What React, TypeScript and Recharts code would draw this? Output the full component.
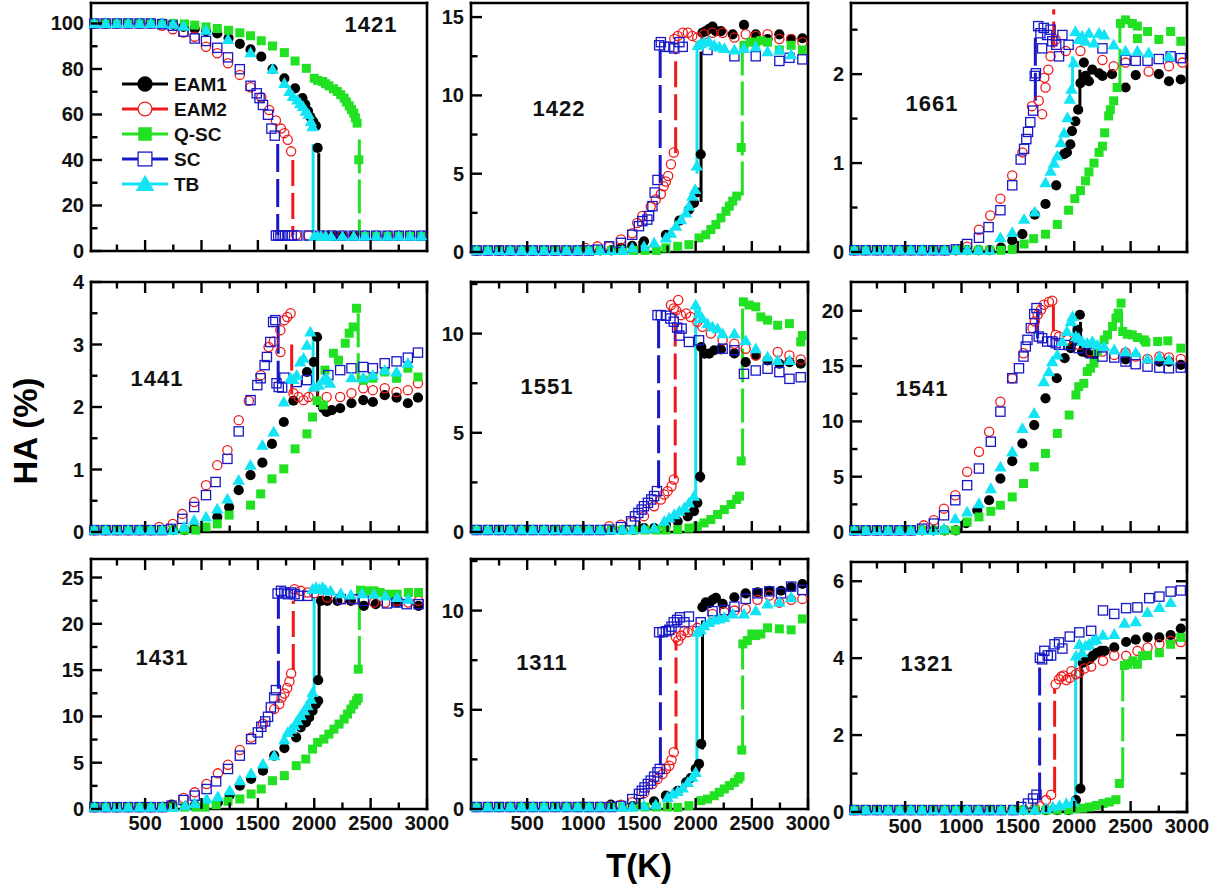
import React from 'react'
import { ComposedChart, Scatter, XAxis, YAxis, ReferenceLine, Legend } from 'recharts'

type Pt = [number, number]
// [series, T, from, to] : vertical jump drawn as a line
type Jump = [string, number, number, number]

const seriesNames = ['EAM1', 'EAM2', 'Q-SC', 'SC', 'TB']

const xMajor = [500, 1000, 1500, 2000, 2500, 3000]
const xMinor = [250, 750, 1250, 1750, 2250, 2750]

// ---------- 1421 ----------
const d1421_EAM1: Pt[] = [[50,100],[150,100],[250,100],[350,100],[450,100],[550,100],[650,100],[750,99.5],[840,98.5],[940,97.6],[1040,96.6],[1140,95.6],[1240,93.6],[1340,91],[1435,88.6],[1530,85.4],[1630,80],[1735,75.9],[1830,71.5],[1895,67.2],[1920,64.5],[1945,61.5],[1965,59],[1990,57],[2015,55],[2030,45.3],[2080,6.8],[2130,6.8],[2180,6.8],[2250,6.7],[2350,6.7],[2450,6.6],[2550,6.6],[2650,6.6],[2750,6.6],[2850,6.6],[2950,6.6]]
const d1421_EAM2: Pt[] = [[50,100],[150,100],[250,100],[350,100],[450,100],[550,100],[650,99],[745,97.5],[840,96],[940,94.2],[1040,89.8],[1140,86.9],[1235,82.5],[1340,77.4],[1435,72],[1530,67.6],[1600,62],[1660,57.4],[1705,53.8],[1735,51.8],[1765,48.9],[1795,43.8],[1840,7],[1950,6.8],[2050,6.8],[2150,6.8],[2250,6.8],[2350,6.8],[2450,6.8],[2550,6.8],[2650,6.8],[2750,6.8],[2850,6.8],[2950,6.8]]
const d1421_QSC: Pt[] = [[50,100],[150,100],[250,100],[350,100],[450,100],[550,100],[650,100],[750,100],[850,99.8],[940,99.3],[1040,98.5],[1140,97.8],[1240,97],[1340,95.9],[1435,94.6],[1530,92.4],[1630,90.1],[1735,87.2],[1830,83.5],[1930,80.3],[2000,75.9],[2030,75],[2075,74.5],[2100,73.5],[2130,72.6],[2170,71.3],[2205,70.1],[2235,68.7],[2265,67.2],[2285,65.5],[2310,63.8],[2330,62.2],[2350,60.6],[2365,58.5],[2380,56.2],[2395,40.1],[2450,6.6],[2550,6.6],[2650,6.6],[2750,6.6],[2850,6.6],[2950,6.6]]
const d1421_SC: Pt[] = [[50,100],[150,100],[250,100],[350,100],[450,100],[550,100],[650,99.7],[745,99],[840,96.4],[940,93.4],[1040,92.3],[1140,89.3],[1235,85.1],[1340,79.9],[1435,72.6],[1490,69.3],[1515,67.2],[1545,64.2],[1590,59.9],[1620,53.8],[1650,50.7],[1660,6.8],[1680,6.8],[1700,6.8],[1720,6.8],[1740,6.8],[1770,6.8],[1800,6.8],[1850,6.8],[1950,6.8],[2050,6.7],[2150,6.7],[2250,6.7],[2350,6.7],[2450,6.7],[2550,6.7],[2650,6.7],[2750,6.7],[2850,6.7],[2950,6.7]]
const d1421_TB: Pt[] = [[50,100],[150,100],[250,100],[350,100],[450,100],[550,100],[650,100],[750,99.7],[840,98.8],[1040,97.1],[1235,93],[1435,87.2],[1630,79.9],[1735,73.7],[1780,70.1],[1810,68],[1850,66.4],[1875,64.8],[1900,63.5],[1925,61.5],[1950,60],[1970,57],[1985,54.7],[2000,6.5],[2030,6.5],[2060,6.5],[2100,6.5],[2150,6.5],[2250,6.5],[2350,6.5],[2450,6.5],[2550,6.5],[2650,6.5],[2750,6.5],[2850,6.5],[2950,6.5]]
const jumps1421: Jump[] = [['EAM1',2040,43,7],['EAM2',1810,40,7],['Q-SC',2400,49,7],['SC',1676,47,7],['TB',1990,47,7]]
const yMajor1421 = [0, 20, 40, 60, 80, 100]
const yMinor1421 = [10, 30, 50, 70, 90]

// ---------- 1422 ----------
const d1422_EAM1: Pt[] = [[50,.1],[150,.1],[250,.1],[350,.1],[450,.1],[550,.1],[650,.1],[750,.1],[850,.1],[950,.1],[1050,.1],[1150,.1],[1250,.1],[1335,.26],[1435,.4],[1540,.68],[1735,1.1],[1855,2],[1940,2.7],[1985,3.14],[2015,3.8],[2045,6.24],[2060,14],[2090,14.1],[2120,14.25],[2150,14.4],[2180,14.1],[2225,14.1],[2330,13.9],[2430,14.5],[2535,13.9],[2640,13.6],[2745,13.9],[2850,13.6],[2950,13.65]]
const d1422_EAM2: Pt[] = [[50,.1],[150,.1],[250,.1],[350,.1],[450,.1],[550,.1],[650,.1],[750,.1],[850,.1],[950,.1],[1020,.26],[1125,.36],[1230,.36],[1335,.8],[1435,1.2],[1480,1.85],[1525,2.3],[1600,2.9],[1645,3.35],[1690,3.7],[1715,4.2],[1735,4.5],[1755,4.85],[1780,5.6],[1805,6.35],[1810,13.6],[1840,13.8],[1885,14],[1930,14],[1970,13.8],[2015,13.7],[2075,13.9],[2150,14],[2240,14],[2345,13.7],[2445,13.9],[2535,13.8],[2640,13.9],[2745,13.6],[2850,13.6],[2950,13.4]]
const d1422_QSC: Pt[] = [[50,.1],[150,.1],[250,.1],[350,.1],[450,.1],[550,.1],[650,.1],[750,.1],[850,.1],[950,.1],[1050,.1],[1150,.1],[1250,.1],[1350,.1],[1450,.1],[1550,.1],[1650,.1],[1735,.26],[1840,.36],[1940,.47],[2030,.9],[2090,1.1],[2135,1.43],[2180,1.75],[2225,2.18],[2270,2.6],[2300,2.93],[2330,3.25],[2365,3.57],[2405,6.67],[2430,13.2],[2490,13.4],[2535,13.4],[2580,13.5],[2640,13.4],[2745,12.9],[2850,13.2],[2950,12.9]]
const d1422_SC: Pt[] = [[50,.1],[150,.1],[250,.1],[350,.1],[450,.1],[550,.1],[650,.1],[750,.1],[850,.1],[950,.1],[1050,.1],[1130,.15],[1230,.36],[1335,.58],[1435,1.1],[1495,1.65],[1525,1.97],[1570,2.07],[1585,2.3],[1615,2.93],[1635,3.8],[1660,4.6],[1675,13.2],[1690,13.4],[1720,13.1],[1765,13.1],[1810,13],[1855,13.4],[1885,13.1],[2105,12.9],[2345,12.5],[2535,12.5],[2745,12.2],[2835,12.4],[2950,12.3]]
const d1422_TB: Pt[] = [[50,.1],[150,.1],[250,.1],[350,.1],[450,.1],[550,.1],[650,.1],[750,.1],[850,.1],[950,.1],[1050,.1],[1150,.1],[1250,.1],[1350,.1],[1435,.26],[1540,.36],[1630,.58],[1735,.9],[1780,1.2],[1825,1.65],[1870,2.07],[1915,2.5],[1940,2.93],[1970,3.57],[1995,4],[2010,5.5],[2020,13.2],[2045,13.3],[2075,13.4],[2120,13.45],[2165,13.2],[2210,13.1],[2255,13],[2345,12.9],[2430,13],[2535,13.1],[2640,12.8],[2745,12.9],[2850,12.6]]
const jumps1422: Jump[] = [['EAM1',2048,3.2,12.8],['EAM2',1822,6.3,12.8],['Q-SC',2415,3.6,12.9],['SC',1684,4.4,13],['TB',2012,5,13]]
const yMajor1422 = [0, 5, 10, 15]
const yMinor1422 = [2.5, 7.5, 12.5]

// ---------- 1661 ----------
const d1661_EAM1: Pt[] = [[50,.02],[150,.02],[250,.02],[350,.02],[450,.02],[550,.02],[650,.02],[750,.02],[850,.02],[950,.02],[1050,.02],[1150,.02],[1250,.02],[1350,.05],[1450,.13],[1540,.2],[1650,.42],[1745,.54],[1840,.75],[1910,1.1],[1935,1.12],[1965,1.21],[1980,1.36],[2010,1.47],[2035,1.6],[2055,1.9],[2085,2.13],[2100,1.98],[2130,1.92],[2160,2.05],[2220,2.01],[2250,1.98],[2335,2],[2455,1.85],[2545,1.99],[2750,2],[2840,1.92],[2945,1.94]]
const d1661_EAM2: Pt[] = [[50,.02],[150,.02],[250,.02],[350,.02],[450,.02],[550,.02],[650,.02],[750,.02],[850,.02],[950,.02],[1050,.06],[1155,.25],[1255,.41],[1345,.6],[1450,.86],[1540,1.12],[1625,1.64],[1685,1.7],[1715,1.55],[1735,1.96],[1745,1.85],[1770,2.05],[1790,2.2],[1835,2.39],[1925,2.26],[2055,2.26],[2250,2.16],[2350,2.09],[2455,2.13],[2660,2.03],[2840,2.09],[2960,2.13]]
const d1661_QSC: Pt[] = [[50,.02],[150,.02],[250,.02],[350,.02],[450,.02],[550,.02],[650,.02],[750,.02],[850,.02],[950,.02],[1050,.02],[1150,.02],[1250,.02],[1350,.02],[1450,.03],[1555,.09],[1640,.15],[1745,.2],[1850,.31],[1950,.47],[2005,.6],[2055,.69],[2100,.8],[2130,.9],[2175,1],[2220,1.12],[2250,1.19],[2270,1.34],[2305,1.53],[2320,1.6],[2350,1.7],[2380,1.85],[2410,2.57],[2455,2.61],[2515,2.57],[2560,2.54],[2650,2.48],[2855,2.48],[2560,2.4],[2750,2.39],[2945,2.37]]
const d1661_SC: Pt[] = [[50,.02],[150,.02],[250,.02],[350,.02],[450,.02],[550,.02],[650,.02],[750,.02],[850,.02],[950,.03],[1050,.09],[1155,.16],[1240,.28],[1345,.47],[1450,.75],[1525,1.04],[1555,1.16],[1575,1.27],[1590,1.35],[1610,1.46],[1635,1.59],[1650,1.98],[1660,2.01],[1680,2.54],[1700,2.46],[1715,2.29],[1730,2.52],[1760,2.44],[1790,2.5],[1805,2.37],[1840,2.33],[1865,2.2],[1895,2.44],[1950,2.33],[2250,2.29],[2455,2.16],[2545,2.15],[2650,2.15],[2750,2.17],[2855,2.2],[2945,2.18]]
const d1661_TB: Pt[] = [[50,.02],[150,.02],[250,.02],[350,.02],[450,.02],[550,.02],[650,.02],[750,.02],[850,.02],[950,.02],[1050,.02],[1150,.02],[1250,.02],[1345,.16],[1450,.22],[1555,.37],[1650,.45],[1745,.78],[1790,.91],[1820,1],[1850,1.08],[1880,1.23],[1910,1.34],[1940,1.51],[1960,1.72],[1975,1.83],[1995,2.13],[2010,2.48],[2040,2.39],[2070,2.43],[2100,2.37],[2130,2.46],[2175,2.35],[2220,2.46],[2265,2.44],[2350,2.33],[2455,2.26],[2560,2.26],[2660,2.24],[2840,2.2]]
const jumps1661: Jump[] = [['EAM1',2050,1.65,2.05],['EAM2',1818,2.3,2.73],['Q-SC',2405,1.9,2.55],['SC',1655,1.7,2.5],['TB',1985,1.8,2.2]]
const yMajor1661 = [0, 1, 2]
const yMinor1661 = [0.5, 1.5, 2.5]

// ---------- 1441 ----------
const d1441_EAM1: Pt[] = [[50,.03],[150,.03],[250,.03],[350,.03],[450,.03],[550,.03],[650,.03],[750,.03],[850,.03],[935,.05],[1140,.24],[1245,.4],[1330,.67],[1435,.91],[1540,1.11],[1625,1.41],[1730,1.76],[1815,2.1],[1935,2.56],[1995,2.72],[2025,3.12],[2080,1.98],[2110,1.92],[2155,1.95],[2230,1.98],[2330,2.06],[2435,2.11],[2520,2.08],[2625,2.19],[2730,2.15],[2830,2.06],[2920,2.15]]
const d1441_EAM2: Pt[] = [[50,.03],[150,.03],[250,.03],[350,.03],[450,.03],[550,.03],[625,.08],[745,.13],[830,.29],[935,.48],[1040,.75],[1140,1.07],[1230,1.31],[1330,1.79],[1420,2.1],[1525,2.51],[1595,2.96],[1640,3.05],[1700,3.23],[1735,3.39],[1760,3.44],[1790,3.5],[1700,2.88],[1815,2.22],[1860,2.16],[1905,2.11],[1950,2.16],[1995,2.19],[2110,2.16],[2230,2.16],[2330,2.22],[2435,2.3],[2520,2.27],[2625,2.3],[2730,2.24],[2830,2.27],[2920,2.38]]
const d1441_QSC: Pt[] = [[50,.03],[150,.03],[250,.03],[350,.03],[450,.03],[550,.03],[650,.03],[750,.03],[850,.03],[950,.03],[1040,.08],[1140,.13],[1245,.27],[1435,.43],[1525,.61],[1625,.85],[1730,1.01],[1830,1.33],[1935,1.57],[1985,1.84],[2025,2.1],[2080,2.03],[2095,2.59],[2170,2.86],[2215,2.75],[2275,3.02],[2310,3.18],[2345,3.28],[2375,3.58],[2435,2.43],[2520,2.46],[2625,2.56],[2730,2.46],[2830,2.62],[2920,2.48]]
const d1441_SC: Pt[] = [[50,.03],[150,.03],[250,.03],[350,.03],[450,.03],[550,.03],[650,.03],[730,.05],[830,.21],[935,.4],[1040,.59],[1125,.8],[1230,1.17],[1330,1.61],[1435,2.11],[1495,2.35],[1525,2.46],[1560,2.67],[1580,2.8],[1610,3.04],[1635,3.36],[1655,3.39],[1665,2.38],[1685,2.32],[1715,2.31],[1735,2.47],[1845,2.4],[1935,2.43],[2125,2.51],[2230,2.59],[2330,2.62],[2435,2.64],[2520,2.62],[2625,2.7],[2730,2.73],[2830,2.79],[2920,2.87]]
const d1441_TB: Pt[] = [[50,.03],[150,.03],[250,.03],[350,.03],[450,.03],[550,.03],[650,.03],[750,.03],[845,.08],[935,.19],[1040,.24],[1140,.37],[1230,.53],[1330,.83],[1435,1.07],[1540,1.39],[1640,1.6],[1730,2.08],[1790,2.46],[1815,2.44],[1845,2.51],[1875,2.72],[1905,2.78],[1935,2.99],[1965,3.2],[1995,2.32],[2040,2.35],[2080,2.43],[2110,2.46],[2140,2.38],[2330,2.47],[2435,2.47],[2520,2.51],[2625,2.59],[2730,2.56],[2830,2.7]]
const jumps1441: Jump[] = [['EAM1',2030,3.1,2],['EAM2',1800,3,2.2],['Q-SC',2390,3.5,2.4],['SC',1680,3.3,2.4],['TB',1990,3.2,2.35]]
const yMajor1441 = [0, 1, 2, 3, 4]
const yMinor1441 = [0.5, 1.5, 2.5, 3.5]

// ---------- 1551 ----------
const d1551_EAM1: Pt[] = [[50,.1],[150,.1],[250,.1],[350,.1],[450,.1],[550,.1],[650,.1],[750,.1],[850,.1],[950,.1],[1050,.1],[1150,.1],[1250,.1],[1350,.1],[1450,.1],[1540,.2],[1630,.2],[1735,.37],[1840,.54],[1930,.79],[1985,1.05],[2015,1.47],[2040,2.79],[2050,9.32],[2080,8.99],[2120,8.99],[2165,9.16],[2225,9.2],[2345,9],[2445,8.56],[2535,8.9],[2640,8.65],[2745,8.48],[2835,8.56],[2935,8.48]]
const d1551_EAM2: Pt[] = [[50,.1],[150,.1],[250,.1],[350,.1],[450,.1],[550,.1],[650,.1],[750,.1],[850,.1],[950,.1],[1050,.1],[1150,.1],[1230,.29],[1335,.37],[1425,.49],[1540,.8],[1630,1.3],[1690,1.64],[1720,1.89],[1750,2.06],[1785,2.31],[1805,2.65],[1780,11.44],[1805,11.27],[1825,11.18],[1845,11.69],[1870,10.93],[1915,11.01],[1955,10.84],[2015,10.59],[2060,10.34],[2135,10],[2240,9.66],[2345,9.49],[2445,9.24],[2535,8.9],[2730,9.07],[2835,8.9],[2935,8.7]]
const d1551_QSC: Pt[] = [[50,.1],[150,.1],[250,.1],[350,.1],[450,.1],[550,.1],[650,.1],[750,.1],[850,.1],[950,.1],[1050,.1],[1150,.1],[1250,.1],[1350,.1],[1450,.1],[1550,.1],[1650,.1],[1735,.1],[1840,.12],[1940,.2],[2015,.29],[2075,.46],[2135,.63],[2195,.88],[2255,1.13],[2315,1.39],[2365,1.64],[2390,1.81],[2405,3.58],[2425,11.6],[2475,11.44],[2535,11.35],[2580,10.84],[2640,10.68],[2730,10.42],[2835,10.5],[2935,9.58],[2950,9.9]]
const d1551_SC: Pt[] = [[50,.1],[150,.1],[250,.1],[350,.1],[450,.1],[550,.1],[650,.1],[750,.1],[850,.1],[950,.1],[1050,.1],[1150,.1],[1230,.12],[1335,.25],[1425,.54],[1460,.79],[1490,.96],[1520,1.13],[1540,1.3],[1575,1.47],[1605,1.64],[1630,1.81],[1655,2.06],[1660,10.93],[1690,10.93],[1735,10.9],[1775,10.76],[1805,10.6],[1835,10.3],[1855,9.9],[1875,10.25],[1940,9.58],[2030,9.66],[2240,9.24],[2345,9.16],[2430,7.97],[2535,8.14],[2640,8.23],[2745,8.06],[2835,7.72],[2935,7.8]]
const d1551_TB: Pt[] = [[50,.1],[150,.1],[250,.1],[350,.1],[450,.1],[550,.1],[650,.1],[750,.1],[850,.1],[950,.1],[1050,.1],[1150,.1],[1250,.1],[1350,.1],[1435,.12],[1540,.15],[1630,.2],[1720,.54],[1765,.71],[1810,.88],[1855,1.05],[1900,1.22],[1940,1.47],[1985,1.81],[2000,11.44],[2030,11.01],[2060,10.76],[2105,10.5],[2150,10.34],[2195,10.25],[2240,10],[2345,10],[2445,9.66],[2535,9.24],[2640,8.82],[2730,8.65],[2835,8.65]]
const jumps1551: Jump[] = [['EAM1',2045,2.5,9.3],['EAM2',1818,2.7,10.5],['Q-SC',2418,3.5,11.3],['SC',1670,2.2,10.7],['TB',2000,1.8,11.3]]
const yMajor1551 = [0, 5, 10]
const yMinor1551 = [2.5, 7.5, 12.5]

// ---------- 1541 ----------
const d1541_EAM1: Pt[] = [[50,.15],[150,.15],[250,.15],[350,.15],[450,.15],[550,.15],[650,.15],[750,.15],[850,.15],[950,.15],[1040,.8],[1140,1.96],[1245,2.87],[1345,4.83],[1450,6.4],[1540,8],[1645,9.67],[1745,12.08],[1845,13.9],[1915,15.71],[1970,16.62],[2000,17.22],[2030,18.28],[2050,19.64],[2070,16.31],[2115,16.16],[2175,16],[2455,15.6],[2755,15.41],[2840,15.41],[2945,15.1]]
const d1541_EAM2: Pt[] = [[50,.15],[150,.15],[250,.15],[350,.15],[450,.15],[550,.15],[665,.6],[755,1.06],[845,2.11],[945,3.32],[1050,5.44],[1155,7.25],[1245,9.06],[1345,11.78],[1450,13.9],[1550,16.16],[1630,18.43],[1650,19.03],[1675,19.64],[1705,20.09],[1730,20.54],[1775,20.79],[1805,20.9],[1835,17.82],[1865,17.67],[1940,17.37],[2040,16.92],[2145,16.31],[2250,16.31],[2355,16.01],[2455,16.22],[2545,15.86],[2650,15.65],[2755,15.86],[2840,15.77],[2945,15.65]]
const d1541_QSC: Pt[] = [[50,.15],[150,.15],[250,.15],[350,.15],[450,.15],[550,.15],[650,.15],[750,.15],[850,.15],[945,.15],[1050,.91],[1155,1.36],[1260,1.87],[1345,2.42],[1450,3.17],[1550,4.38],[1645,5.89],[1745,7.1],[1850,8.91],[1955,10.57],[2015,12.39],[2040,13.14],[2085,13.44],[2115,14.5],[2145,14.8],[2175,15.26],[2205,16.31],[2265,17.37],[2295,17.82],[2340,18.58],[2370,19.34],[2390,19.79],[2415,20.69],[2430,18.13],[2470,17.88],[2515,17.82],[2560,17.58],[2620,17.37],[2635,17.16],[2740,17.22],[2830,17.28],[2945,16.62]]
const d1541_SC: Pt[] = [[50,.15],[150,.15],[250,.15],[350,.15],[450,.15],[550,.15],[650,.3],[755,.76],[845,1.51],[945,2.87],[1050,4.23],[1155,5.74],[1260,8.16],[1345,10.88],[1450,13.9],[1510,14.8],[1550,15.86],[1570,16.77],[1585,17.37],[1615,18.43],[1645,19.7],[1665,20.24],[1685,17.67],[1715,17.52],[1760,17.22],[1805,17.22],[1835,17.07],[1865,16.92],[1955,16.9],[2040,16.62],[2145,16.16],[2250,15.86],[2355,15.77],[2455,15.41],[2545,15.17],[2650,14.95],[2755,14.86],[2840,14.8],[2945,14.86]]
const d1541_TB: Pt[] = [[50,.15],[150,.15],[250,.15],[350,.15],[450,.15],[550,.15],[650,.15],[750,.15],[845,.3],[945,1.21],[1050,1.81],[1155,2.57],[1260,3.93],[1345,5.89],[1450,7.25],[1540,9.37],[1645,10.73],[1730,13.6],[1775,14.5],[1805,15.41],[1850,16.01],[1895,17.22],[1935,18.13],[1970,19.03],[1985,19.49],[2015,17.67],[2040,17.52],[2070,17.22],[2115,17.07],[2160,17.22],[2205,16.92],[2265,16.77],[2355,16.47],[2455,16.31],[2545,16.22],[2650,15.65],[2755,15.86],[2840,15.56]]
const jumps1541: Jump[] = [['EAM1',2055,19,16.5],['EAM2',1815,20.5,17.6],['Q-SC',2420,20,18],['SC',1675,20,17.5],['TB',1995,19.3,17.5]]
const yMajor1541 = [0, 5, 10, 15, 20]
const yMinor1541 = [2.5, 7.5, 12.5, 17.5]

// ---------- 1431 ----------
const d1431_EAM1: Pt[] = [[50,.2],[150,.2],[250,.2],[350,.2],[450,.2],[550,.2],[650,.2],[735,.47],[940,.4],[1145,.7],[1250,1.5],[1340,2.52],[1440,3.24],[1545,4.14],[1645,5.76],[1735,6.58],[1840,7.73],[1880,8.81],[1925,9.35],[1955,9.89],[1985,10.61],[2015,11.33],[2035,11.69],[2035,13.92],[2060,22.48],[2115,22.48],[2205,22.48],[2325,22.48],[2440,21.94],[2545,22.12],[2735,22.3],[2925,21.94]]
const d1431_EAM2: Pt[] = [[50,.2],[150,.2],[250,.2],[350,.2],[450,.2],[550,.2],[650,.2],[735,.36],[840,1.19],[940,1.8],[1045,2.7],[1145,3.85],[1235,4.78],[1340,6.37],[1440,7.73],[1545,9.2],[1645,10.79],[1690,11.33],[1710,12.05],[1735,12.48],[1760,13.06],[1780,13.78],[1795,14.64],[1825,23.74],[1880,23.56],[1940,23.38],[2000,23.3],[2115,22.84],[2235,22.66],[2350,22.66],[2530,22.3],[2630,22.3],[2735,22.48],[2835,22.3],[2925,22.48]]
const d1431_QSC: Pt[] = [[50,.2],[150,.2],[250,.2],[350,.2],[450,.2],[550,.2],[650,.2],[750,.2],[850,.2],[950,.2],[1030,.2],[1130,.47],[1235,.83],[1340,1.08],[1440,1.62],[1530,2.16],[1630,3.06],[1735,3.6],[1840,4.68],[1925,5.4],[1985,6.47],[2030,7.19],[2085,7.55],[2130,8.09],[2175,8.63],[2220,9.17],[2265,9.71],[2295,10.25],[2325,10.79],[2350,11.26],[2375,11.69],[2390,11.98],[2390,15.1],[2410,23.63],[2470,23.56],[2530,23.56],[2585,23.38],[2660,23.2],[2735,23.2],[2835,23.38],[2925,23.38]]
const d1431_SC: Pt[] = [[50,.2],[150,.2],[250,.2],[350,.2],[450,.2],[550,.2],[650,.2],[735,.36],[840,.97],[940,1.44],[1045,2.16],[1130,2.99],[1235,4.32],[1340,5.76],[1440,7.55],[1500,8.27],[1530,8.88],[1565,9.46],[1590,9.96],[1615,10.97],[1645,12.05],[1660,12.84],[1675,23.27],[1705,23.56],[1735,23.38],[1765,23.2],[1795,23.38],[1825,23.2],[1865,23.02],[1940,23.02],[2235,22.66],[2350,22.66],[2440,22.48],[2645,22.2],[2735,22.3],[2820,22.12],[2925,22.12]]
const d1431_TB: Pt[] = [[50,.2],[150,.2],[250,.2],[350,.2],[450,.2],[550,.2],[650,.2],[750,.2],[855,.36],[940,.61],[1045,1.08],[1145,1.33],[1250,1.98],[1340,3.06],[1440,3.85],[1545,4.86],[1645,5.76],[1735,7.45],[1765,8.27],[1795,8.63],[1825,8.99],[1850,9.53],[1880,10.07],[1910,10.61],[1940,11.15],[1970,11.87],[1985,12.59],[1985,23.74],[2015,23.92],[2045,23.74],[2075,23.92],[2100,23.63],[2145,23.56],[2235,23.27],[2325,23.13],[2425,23.27],[2530,23.2],[2630,23.02],[2735,22.84],[2835,22.66]]
const jumps1431: Jump[] = [['EAM1',2043,14,22.5],['EAM2',1814,15,22.5],['Q-SC',2400,15,22.5],['SC',1682,13,23],['TB',1999,12.5,22.8]]
const yMajor1431 = [0, 5, 10, 15, 20, 25]
const yMinor1431 = [2.5, 7.5, 12.5, 17.5, 22.5]

// ---------- 1311 ----------
const d1311_EAM1: Pt[] = [[50,.1],[150,.1],[250,.1],[350,.1],[450,.1],[550,.1],[650,.1],[750,.1],[850,.1],[950,.1],[1050,.1],[1150,.1],[1245,.22],[1440,.15],[1630,.39],[1735,.67],[1840,.92],[1915,1.34],[1955,1.56],[2000,2.02],[2030,2.27],[2050,3.28],[2060,10.17],[2090,10.42],[2120,10.37],[2150,10.54],[2180,10.64],[2240,10.34],[2345,10.67],[2445,10.87],[2550,10.92],[2655,11],[2760,11],[2850,11.18],[2950,11.34]]
const d1311_EAM2: Pt[] = [[50,.1],[150,.1],[250,.1],[350,.1],[450,.1],[550,.1],[650,.1],[750,.1],[850,.1],[950,.1],[1050,.1],[1150,.1],[1230,.15],[1335,.22],[1435,.34],[1540,.8],[1615,1.26],[1660,1.51],[1705,1.76],[1735,2.02],[1765,2.18],[1785,2.47],[1805,2.86],[1825,8.66],[1845,8.49],[1870,8.74],[1900,8.99],[1930,8.91],[1970,8.99],[2015,9.13],[2150,9.83],[2255,9.92],[2345,10],[2445,10.08],[2550,10.54],[2655,10.76],[2745,10.4],[2850,10.54],[2950,10.59]]
const d1311_QSC: Pt[] = [[50,.1],[150,.1],[250,.1],[350,.1],[450,.1],[550,.1],[650,.1],[750,.1],[850,.1],[950,.1],[1050,.1],[1150,.1],[1250,.1],[1350,.1],[1450,.1],[1550,.1],[1650,.1],[1750,.1],[1840,.08],[1940,.17],[2045,.42],[2105,.5],[2165,.67],[2210,.84],[2255,1.01],[2300,1.18],[2345,1.34],[2380,1.51],[2395,1.63],[2410,2.97],[2420,8.32],[2460,8.49],[2500,8.82],[2535,8.74],[2580,8.82],[2640,9.13],[2745,9.08],[2850,9.03],[2950,9.58]]
const d1311_SC: Pt[] = [[50,.1],[150,.1],[250,.1],[350,.1],[450,.1],[550,.1],[650,.1],[750,.1],[850,.1],[950,.1],[1050,.1],[1150,.1],[1250,.1],[1335,.15],[1435,.5],[1495,.76],[1520,.92],[1545,1.09],[1575,1.26],[1600,1.43],[1630,1.63],[1660,1.85],[1680,2.02],[1675,8.91],[1705,8.91],[1735,8.96],[1765,9.03],[1785,9.19],[1805,9.41],[1835,9.53],[1860,9.66],[1900,9.41],[1940,9.7],[2045,9.41],[2150,9.97],[2255,10.03],[2345,10.2],[2445,10.59],[2550,10.87],[2655,10.97],[2760,10.87],[2850,11.21],[2950,11.04]]
const d1311_TB: Pt[] = [[50,.1],[150,.1],[250,.1],[350,.1],[450,.1],[550,.1],[650,.1],[750,.1],[850,.1],[950,.1],[1050,.1],[1150,.1],[1250,.1],[1350,.1],[1435,.1],[1540,.17],[1645,.22],[1750,.59],[1795,.76],[1840,.89],[1885,1.06],[1930,1.34],[1970,1.6],[2000,1.85],[2015,8.91],[2045,9.03],[2075,9.24],[2120,9.41],[2165,9.53],[2210,9.58],[2255,9.66],[2330,9.83],[2430,9.83],[2535,10],[2640,10.34],[2745,10.42],[2850,10.67]]
const jumps1311: Jump[] = [['EAM1',2061,3,9.5],['EAM2',1825,3,8.5],['Q-SC',2418,3,8.2],['SC',1686,2.2,8.8],['TB',2011,2.2,8.8]]
const yMajor1311 = [0, 5, 10]
const yMinor1311 = [2.5, 7.5, 12.5]

// ---------- 1321 ----------
const d1321_EAM1: Pt[] = [[50,.05],[150,.05],[250,.05],[350,.05],[450,.05],[550,.05],[650,.05],[750,.05],[850,.05],[950,.05],[1050,.05],[1150,.05],[1250,.05],[1350,.05],[1450,.05],[1550,.05],[1650,.05],[1750,.05],[1850,.05],[1950,.05],[2015,.31],[2055,.61],[2075,3.88],[2105,3.93],[2135,3.97],[2165,4.06],[2200,4.14],[2240,4.19],[2270,4.19],[2355,4.28],[2460,4.42],[2545,4.48],[2650,4.54],[2755,4.54],[2855,4.6],[2945,4.77]]
const d1321_EAM2: Pt[] = [[50,.05],[150,.05],[250,.05],[350,.05],[450,.05],[550,.05],[650,.05],[750,.05],[850,.05],[950,.05],[1050,.05],[1150,.05],[1250,.05],[1350,.05],[1450,.05],[1550,.05],[1650,.1],[1695,.15],[1750,.31],[1795,.45],[1835,3.32],[1865,3.45],[1885,3.52],[1905,3.55],[1930,3.43],[1960,3.49],[1975,3.66],[2015,3.58],[2045,3.62],[2090,3.73],[2150,3.78],[2255,3.93],[2355,4.07],[2460,4.06],[2560,4.19],[2650,4.28],[2755,4.36],[2855,4.45],[2945,4.42]]
const d1321_QSC: Pt[] = [[50,.05],[150,.05],[250,.05],[350,.05],[450,.05],[550,.05],[650,.05],[750,.05],[850,.05],[950,.05],[1050,.05],[1150,.05],[1250,.05],[1350,.05],[1450,.05],[1550,.05],[1650,.05],[1750,.05],[1850,.05],[1950,.05],[2015,.09],[2075,.1],[2135,.13],[2195,.17],[2255,.22],[2310,.26],[2370,.32],[2400,.74],[2445,3.81],[2475,3.84],[2520,3.93],[2560,3.84],[2605,4.06],[2650,4.07],[2755,4.14],[2855,4.36],[2945,4.54]]
const d1321_SC: Pt[] = [[50,.05],[150,.05],[250,.05],[350,.05],[450,.05],[550,.05],[650,.05],[750,.05],[850,.05],[950,.05],[1050,.05],[1150,.05],[1250,.05],[1350,.05],[1460,.05],[1530,.13],[1590,.22],[1635,.35],[1665,.45],[1695,4.01],[1715,3.97],[1735,4.19],[1765,4.07],[1795,4.07],[1825,4.36],[1865,4.41],[1895,4.25],[1960,4.56],[2045,4.67],[2150,4.71],[2255,5.24],[2355,5.15],[2460,5.3],[2560,5.32],[2665,5.56],[2755,5.6],[2855,5.73],[2945,5.76]]
const d1321_TB: Pt[] = [[50,.05],[150,.05],[250,.05],[350,.05],[450,.05],[550,.05],[650,.05],[750,.05],[850,.05],[950,.05],[1050,.05],[1150,.05],[1250,.05],[1350,.05],[1450,.05],[1550,.05],[1650,.05],[1750,.09],[1810,.13],[1870,.17],[1930,.22],[1990,.26],[2015,4.06],[2045,4.36],[2070,4.14],[2100,4.32],[2130,4.36],[2165,4.45],[2195,4.49],[2255,4.6],[2355,4.62],[2445,4.91],[2545,4.95],[2650,5.19],[2755,5.32],[2855,5.45]]
const jumps1321: Jump[] = [['EAM1',2062,.6,3.8],['EAM2',1826,.5,3.2],['Q-SC',2430,.8,3.7],['SC',1693,.3,3.9],['TB',2012,.4,4]]
const yMajor1321 = [0, 2, 4, 6]
const yMinor1321 = [1, 3, 5]

// ---------- styling ----------
const FONT = '"Liberation Sans", Arial, Helvetica, sans-serif'

const STYLE: Record<string, { color: string; shape: 'circle' | 'square' | 'triangle'; open?: boolean; dash?: string }> = {
  'EAM1': { color: '#000000', shape: 'circle' },
  'EAM2': { color: '#f01818', shape: 'circle', open: true, dash: '26 7' },
  'Q-SC': { color: '#22e022', shape: 'square', dash: '34 6' },
  'SC': { color: '#1818c8', shape: 'square', open: true, dash: '28 7' },
  'TB': { color: '#12e4f4', shape: 'triangle' },
}

const AXIS = { stroke: '#000', strokeWidth: 2.6, strokeLinecap: 'square' as const }

function Marker({ name, cx, cy, k = 1, legend = false }: { name: string; cx: number; cy: number; k?: number; legend?: boolean }) {
  const s = STYLE[name]
  const fill = s.open ? (legend ? '#fff' : 'none') : s.color
  if (s.shape === 'circle') {
    const r = (s.open ? 4.6 : 5.1) * k
    return <circle cx={cx} cy={cy} r={r} fill={fill} stroke={s.color} strokeWidth={s.open ? 1.3 : 0} />
  }
  if (s.shape === 'square') {
    const h = (s.open ? 4.6 : 4.5) * k
    return <rect x={cx - h} y={cy - h} width={2 * h} height={2 * h} fill={fill} stroke={s.color} strokeWidth={s.open ? 1.3 : 0} />
  }
  const w = 6.2 * k
  return <polygon points={`${cx},${cy - 6.2 * k} ${cx - w},${cy + 4.6 * k} ${cx + w},${cy + 4.6 * k}`} fill={s.color} />
}

type PanelDef = {
  id: string
  left: number; top: number; w: number; h: number
  x0: number; ymax: number
  yMajor: number[]; yMinor: number[]
  data: Record<string, Pt[]>
  jumps: Jump[]
  label: [number, number]
  topTicks: boolean; rightTicks: boolean; xLabels: boolean; legend?: boolean
}

const panels: PanelDef[] = [
  { id: '1421', left: 91, top: 3, w: 336, h: 248, x0: 20, ymax: 109, yMajor: yMajor1421, yMinor: yMinor1421,
    data: { 'EAM1': d1421_EAM1, 'EAM2': d1421_EAM2, 'Q-SC': d1421_QSC, 'SC': d1421_SC, 'TB': d1421_TB }, jumps: jumps1421,
    label: [371, 24], topTicks: false, rightTicks: false, xLabels: false, legend: true },
  { id: '1422', left: 471, top: 3, w: 337, h: 249, x0: 0, ymax: 15.9, yMajor: yMajor1422, yMinor: yMinor1422,
    data: { 'EAM1': d1422_EAM1, 'EAM2': d1422_EAM2, 'Q-SC': d1422_QSC, 'SC': d1422_SC, 'TB': d1422_TB }, jumps: jumps1422,
    label: [559, 108], topTicks: false, rightTicks: false, xLabels: false },
  { id: '1661', left: 851, top: 3, w: 336, h: 249, x0: 20, ymax: 2.8, yMajor: yMajor1661, yMinor: yMinor1661,
    data: { 'EAM1': d1661_EAM1, 'EAM2': d1661_EAM2, 'Q-SC': d1661_QSC, 'SC': d1661_SC, 'TB': d1661_TB }, jumps: jumps1661,
    label: [932, 103], topTicks: false, rightTicks: false, xLabels: false },
  { id: '1441', left: 91, top: 282, w: 336, h: 250, x0: 20, ymax: 4, yMajor: yMajor1441, yMinor: yMinor1441,
    data: { 'EAM1': d1441_EAM1, 'EAM2': d1441_EAM2, 'Q-SC': d1441_QSC, 'SC': d1441_SC, 'TB': d1441_TB }, jumps: jumps1441,
    label: [157, 378], topTicks: true, rightTicks: false, xLabels: false },
  { id: '1551', left: 471, top: 282, w: 337, h: 250, x0: 0, ymax: 12.6, yMajor: yMajor1551, yMinor: yMinor1551,
    data: { 'EAM1': d1551_EAM1, 'EAM2': d1551_EAM2, 'Q-SC': d1551_QSC, 'SC': d1551_SC, 'TB': d1551_TB }, jumps: jumps1551,
    label: [547, 386], topTicks: true, rightTicks: false, xLabels: false },
  { id: '1541', left: 851, top: 282, w: 336, h: 250, x0: 20, ymax: 22.6, yMajor: yMajor1541, yMinor: yMinor1541,
    data: { 'EAM1': d1541_EAM1, 'EAM2': d1541_EAM2, 'Q-SC': d1541_QSC, 'SC': d1541_SC, 'TB': d1541_TB }, jumps: jumps1541,
    label: [922, 388], topTicks: true, rightTicks: false, xLabels: false },
  { id: '1431', left: 91, top: 559, w: 336, h: 250, x0: 20, ymax: 27, yMajor: yMajor1431, yMinor: yMinor1431,
    data: { 'EAM1': d1431_EAM1, 'EAM2': d1431_EAM2, 'Q-SC': d1431_QSC, 'SC': d1431_SC, 'TB': d1431_TB }, jumps: jumps1431,
    label: [162, 657], topTicks: true, rightTicks: false, xLabels: true },
  { id: '1311', left: 471, top: 559, w: 337, h: 250, x0: 0, ymax: 12.6, yMajor: yMajor1311, yMinor: yMinor1311,
    data: { 'EAM1': d1311_EAM1, 'EAM2': d1311_EAM2, 'Q-SC': d1311_QSC, 'SC': d1311_SC, 'TB': d1311_TB }, jumps: jumps1311,
    label: [542, 662], topTicks: true, rightTicks: false, xLabels: true },
  { id: '1321', left: 851, top: 562, w: 336, h: 250, x0: 20, ymax: 6.5, yMajor: yMajor1321, yMinor: yMinor1321,
    data: { 'EAM1': d1321_EAM1, 'EAM2': d1321_EAM2, 'Q-SC': d1321_QSC, 'SC': d1321_SC, 'TB': d1321_TB }, jumps: jumps1321,
    label: [927, 663], topTicks: true, rightTicks: true, xLabels: true },
]

// axis band sizes and extra room so edge labels are not cut
const PADL = 60, PADR = 2, PADT = 2, PADB = 34
const MTOP = 14, MRIGHT = 30
const tickFont = { fontFamily: FONT, fontWeight: 700, fontSize: 20, fill: '#111' }

const XTick = (p: any) => {
  const v = p.payload.value
  const major = v % 500 === 0
  const len = major ? 11 : 6.5
  const y2 = p.side === 'bottom' ? p.y - len : p.y + len
  return (
    <g>
      <line x1={p.x} y1={p.y} x2={p.x} y2={y2} stroke="#000" strokeWidth={2.4} />
      {p.showLabel && major && (
        <text x={p.x} y={p.y + 21} textAnchor="middle" style={tickFont}>{v}</text>
      )}
    </g>
  )
}

const YTick = (p: any) => {
  const v = p.payload.value
  const major = p.majors.includes(v)
  const len = major ? 11 : 6.5
  const x2 = p.side === 'left' ? p.x + len : p.x - len
  return (
    <g>
      <line x1={p.x} y1={p.y} x2={x2} y2={p.y} stroke="#000" strokeWidth={2.4} />
      {p.side === 'left' && major && (
        <text x={p.x - 7} y={p.y + 7} textAnchor="end" style={tickFont}>{v}</text>
      )}
    </g>
  )
}

const LegendBox = () => (
  <svg width={110} height={130}>
    {seriesNames.map((name, i) => {
      const cy = 13 + i * 25
      return (
        <g key={name}>
          <line x1={1} x2={47} y1={cy} y2={cy} stroke={STYLE[name].color} strokeWidth={3} />
          <Marker name={name} cx={24} cy={cy} k={1.5} legend />
          <text x={53} y={cy + 7} style={{ fontFamily: FONT, fontWeight: 700, fontSize: 19, fill: '#111' }}>{name}</text>
        </g>
      )
    })}
  </svg>
)

function Panel({ p }: { p: PanelDef }) {
  const W = p.w + PADL + PADR + MRIGHT
  const H = p.h + PADT + PADB + MTOP
  const xTicks = [...xMinor, ...xMajor].filter((v) => v > p.x0).sort((a, b) => a - b)
  const yTicks = [...p.yMajor, ...p.yMinor].filter((v) => v <= p.ymax).sort((a, b) => a - b)
  return (
    <div style={{ position: 'absolute', left: p.left - PADL, top: p.top - PADT - MTOP }}>
      <ComposedChart width={W} height={H} margin={{ top: MTOP, right: MRIGHT, bottom: 0, left: 0 }}>
        <XAxis xAxisId="b" type="number" dataKey="x" domain={[p.x0, 3000]} ticks={xTicks} interval={0}
          height={PADB} tickSize={0} tickMargin={0} tickLine={false} axisLine={AXIS}
          tick={(t: any) => <XTick {...t} side="bottom" showLabel={p.xLabels} />} />
        <XAxis xAxisId="t" orientation="top" type="number" dataKey="x" domain={[p.x0, 3000]} allowDataOverflow
          ticks={xTicks} interval={0} height={PADT} tickSize={0} tickMargin={0} tickLine={false} axisLine={AXIS}
          tick={p.topTicks ? (t: any) => <XTick {...t} side="top" showLabel={false} /> : false} />
        <YAxis yAxisId="l" type="number" dataKey="y" domain={[0, p.ymax]} ticks={yTicks} interval={0}
          width={PADL} tickSize={0} tickMargin={0} tickLine={false} axisLine={AXIS}
          tick={(t: any) => <YTick {...t} side="left" majors={p.yMajor} />} />
        <YAxis yAxisId="r" orientation="right" type="number" dataKey="y" domain={[0, p.ymax]} allowDataOverflow
          ticks={yTicks} interval={0} width={PADR} tickSize={0} tickMargin={0} tickLine={false} axisLine={AXIS}
          tick={p.rightTicks ? (t: any) => <YTick {...t} side="right" majors={p.yMajor} /> : false} />
        {seriesNames.map((name) => (
          <Scatter key={name} name={name} xAxisId="b" yAxisId="l" isAnimationActive={false}
            data={p.data[name].map(([x, y]) => ({ x, y }))}
            shape={(s: any) => <Marker name={name} cx={s.cx} cy={s.cy} />} />
        ))}
        {p.jumps.map(([name, t, a, b], i) => (
          <ReferenceLine key={i} xAxisId="b" yAxisId="l" segment={[{ x: t, y: a }, { x: t, y: b }]}
            stroke={STYLE[name].color} strokeWidth={3} strokeDasharray={STYLE[name].dash} />
        ))}
        {p.legend && (
          <Legend layout="vertical" align="center" verticalAlign="middle"
            wrapperStyle={{ left: 90, top: 70 + MTOP, width: 110, height: 130 }}
            content={() => <LegendBox />} />
        )}
      </ComposedChart>
    </div>
  )
}

export default function App() {
  return (
    <div style={{ position: 'absolute', left: 0, top: 0, width: 1229, height: 893, background: '#fff', overflow: 'hidden' }}>
      {panels.map((p) => <Panel key={p.id} p={p} />)}
      <svg width={1229} height={893} style={{ position: 'absolute', left: 0, top: 0, pointerEvents: 'none' }}>
        {panels.map((p) => (
          <text key={p.id} x={p.label[0]} y={p.label[1] + 8} textAnchor="middle"
            style={{ fontFamily: FONT, fontWeight: 700, fontSize: 22, letterSpacing: 1, fill: '#111' }}>{p.id}</text>
        ))}
        <text transform="translate(37,431) rotate(-90)" textAnchor="middle"
          style={{ fontFamily: FONT, fontWeight: 700, fontSize: 33, fill: '#000' }}>HA (%)</text>
        <text x={639} y={877} textAnchor="middle"
          style={{ fontFamily: FONT, fontWeight: 700, fontSize: 33, fill: '#000' }}>T(K)</text>
      </svg>
    </div>
  )
}
